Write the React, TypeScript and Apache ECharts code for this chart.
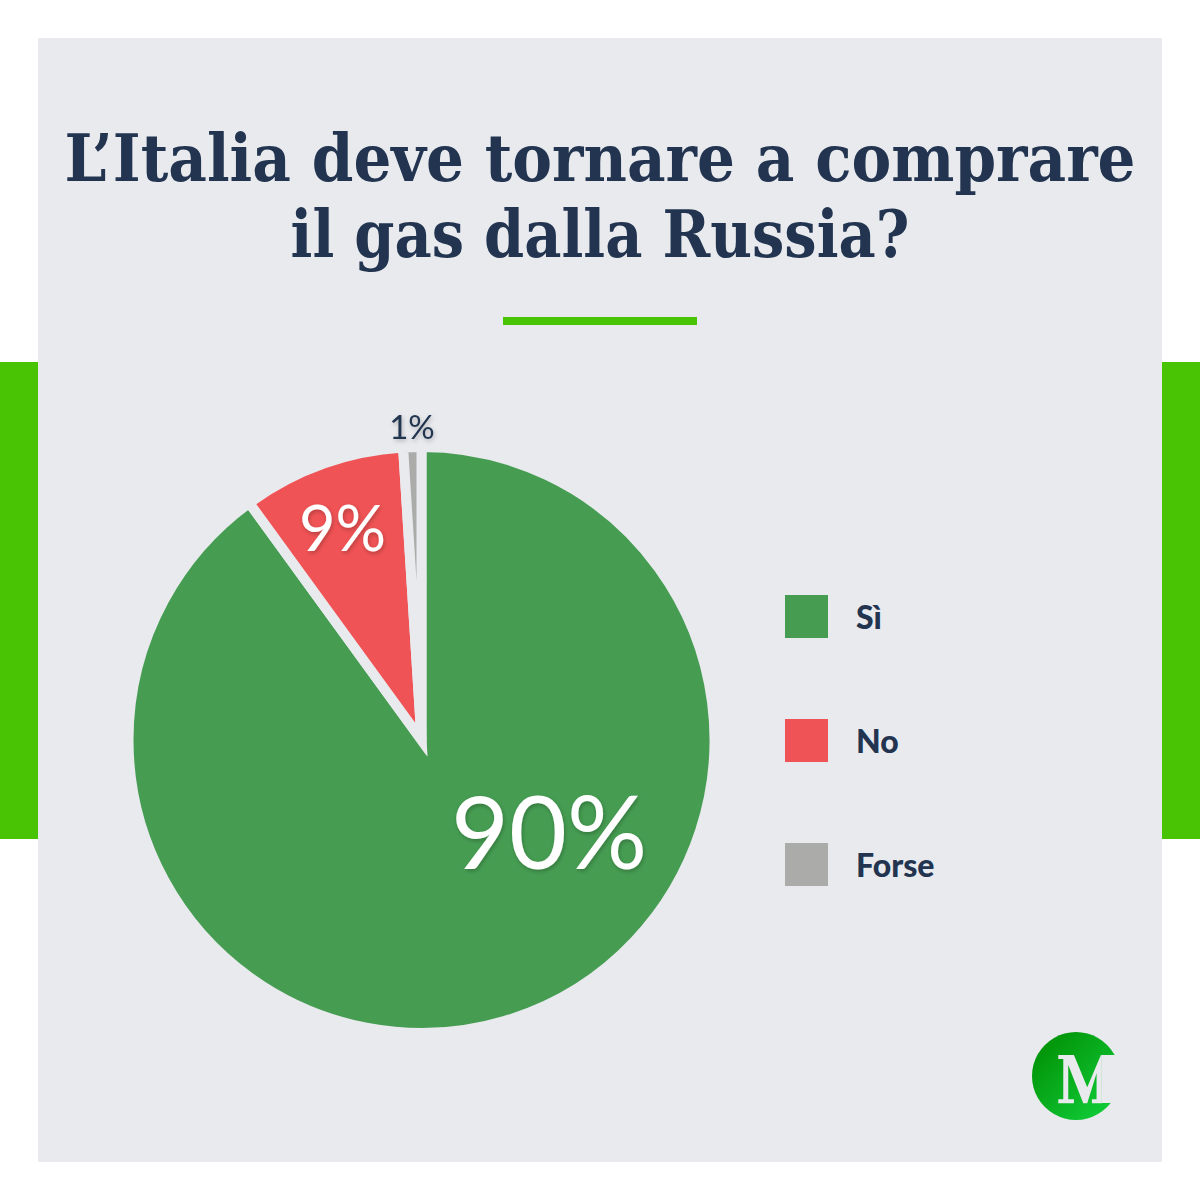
import React, { useEffect, useRef } from 'react';
import * as echarts from 'echarts';

const categories = ['Sì', 'No', 'Forse'];
const values = [90, 9, 1];
const sliceColors = ['#469d52', '#f05355', '#abaca9'];
const titleLines = ['L’Italia deve tornare a comprare', 'il gas dalla Russia?'];

const PANEL = '#e8eaee';
const GREEN = '#48c404';
const NAVY = '#22344f';

// label spots, the pie's own inside/outside spots sit elsewhere
const labelSpots = [
  { x: 549, y: 830, size: 100, color: '#fff' },
  { x: 342.5, y: 526, size: 63, color: '#fff' },
  { x: 412, y: 426, size: 33, color: NAVY },
];

// title lines: the font is wider than the original serif, so each line gets squeezed
const titleSpots = [
  { y: 158, scaleX: 0.904 },
  { y: 234, scaleX: 0.871 },
];

// logo M outline, in pixels of a 3x crop
const logoM = [
  [175, 135], [222, 135], [262, 232], [303, 135], [306, 135], [306, 280], [276, 280], [276, 268],
  [290, 268], [290, 190], [262, 280], [250, 280], [205, 165], [205, 268], [222, 268], [222, 280],
  [175, 280], [175, 268], [190, 268], [190, 147], [175, 147],
];

const App: React.FC = () => {
  const chartRef = useRef<HTMLDivElement>(null);

  useEffect(() => {
    if (!chartRef.current) return;
    document.body.style.margin = '0';
    const chart = echarts.init(chartRef.current, undefined, { renderer: 'svg' });

    const option = {
      animation: false,
      backgroundColor: '#fff',
      legend: {
        orient: 'vertical',
        left: 780,
        top: 590,
        itemWidth: 43,
        itemHeight: 43,
        itemGap: 81,
        icon: 'rect',
        selectedMode: false,
        data: categories,
        itemStyle: { borderWidth: 0 },
        textStyle: {
          fontFamily: 'Lato',
          fontWeight: 900,
          fontSize: 32,
          color: NAVY,
          padding: [0, 0, 0, 23],
        },
      },
      graphic: [
        { type: 'rect', z: -10, shape: { x: 0, y: 362, width: 1200, height: 477 }, style: { fill: GREEN } },
        { type: 'rect', z: -9, shape: { x: 38, y: 38, width: 1124, height: 1124 }, style: { fill: PANEL } },
        { type: 'rect', z: -8, shape: { x: 503, y: 317, width: 194, height: 8 }, style: { fill: GREEN } },
        ...titleLines.map((text, i) => ({
          type: 'text',
          z: 1,
          x: 600,
          y: titleSpots[i].y,
          scaleX: titleSpots[i].scaleX,
          style: {
            text,
            fill: NAVY,
            font: 'bold 66px "DejaVu Serif"',
            textAlign: 'center',
            textVerticalAlign: 'middle',
          },
        })),
        {
          type: 'circle',
          z: 1,
          shape: { cx: 1076, cy: 1076, r: 44 },
          style: {
            fill: new echarts.graphic.LinearGradient(0, 0, 1, 1, [
              { offset: 0, color: '#008a00' },
              { offset: 1, color: '#12d43f' },
            ]),
          },
        },
        { type: 'rect', z: 2, shape: { x: 1102, y: 1055, width: 24, height: 48 }, style: { fill: PANEL } },
        {
          type: 'polygon',
          z: 3,
          x: 1000,
          y: 1010,
          scaleX: 1 / 3,
          scaleY: 1 / 3,
          shape: { points: logoM },
          style: { fill: PANEL },
        },
      ],
      series: [
        {
          type: 'pie',
          center: [421.5, 740],
          radius: [0, 293],
          startAngle: 90,
          clockwise: true,
          silent: true,
          avoidLabelOverlap: false,
          labelLine: { show: false },
          itemStyle: { borderColor: PANEL, borderWidth: 10, borderJoin: 'miter', borderMiterLimit: 10 },
          labelLayout: (params: any) => ({
            x: labelSpots[params.dataIndex].x,
            y: labelSpots[params.dataIndex].y,
            align: 'center',
            verticalAlign: 'middle',
          }),
          data: categories.map((name, i) => ({
            name,
            value: values[i],
            itemStyle: { color: sliceColors[i] },
            label: {
              show: true,
              position: 'inside',
              formatter: '{c}%',
              fontFamily: 'Lato',
              fontSize: labelSpots[i].size,
              color: labelSpots[i].color,
              textShadowColor: 'rgba(0,0,0,0.25)',
              textShadowBlur: 4,
              textShadowOffsetX: 1,
              textShadowOffsetY: 2,
            },
          })),
        },
      ],
    };

    chart.setOption(option as any);
    return () => chart.dispose();
  }, []);

  return <div ref={chartRef} style={{ width: 1200, height: 1200 }} />;
};

export default App;
